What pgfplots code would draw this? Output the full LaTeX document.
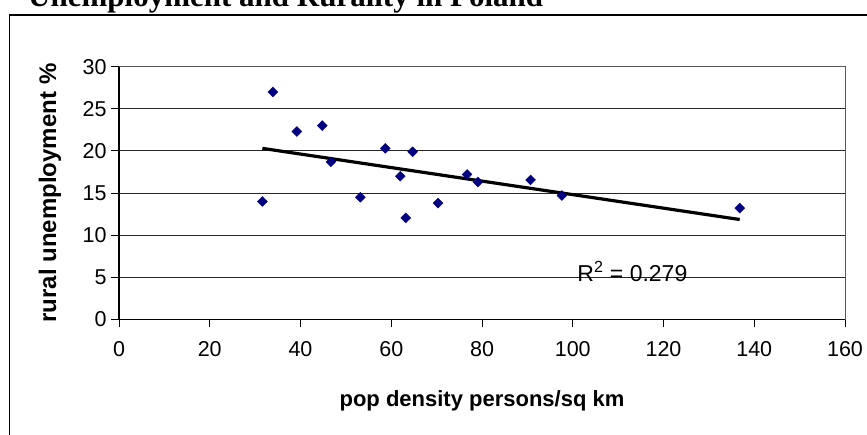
\documentclass[border=0pt]{standalone}
\usepackage{pgfplots}
\pgfplotsset{compat=1.18}
\usepackage{fontspec}
\setmainfont{Liberation Sans}
\newfontfamily\titlefont{Liberation Serif}
\definecolor{navy}{RGB}{0,0,128}
\begin{document}
\begin{tikzpicture}
\useasboundingbox (0pt,0pt) rectangle (867pt,434pt);
\clip (0pt,0pt) rectangle (867pt,434pt);
\draw[line width=1.6pt] (9.5pt,-20pt) rectangle (900pt,419pt);
\node[anchor=base west, font=\titlefont\bfseries\fontsize{31}{34}\selectfont, inner sep=0] at (28pt,427pt) {Unemployment and Rurality in Poland};
\begin{axis}[
  at={(119pt,114.7pt)}, anchor=south west,
  scale only axis, width=726pt, height=252.6pt,
  xmin=0, xmax=160, ymin=0, ymax=30,
  xtick={0,20,...,160}, ytick={0,5,...,30},
  ymajorgrids, grid style={black!85, line width=0.8pt},
  axis line style={gray!70!black, line width=0.9pt},
  tick pos=left, tick align=outside, major tick length=8pt,
  tick style={black, line width=0.8pt},
  /pgf/number format/assume math mode=true,
  ticklabel style={font=\fontsize{21.5}{24}\selectfont},
  xticklabel shift=11pt,
  yticklabel shift=1pt,
  xlabel={pop density persons/sq km},
  ylabel={rural unemployment \%},
  xlabel style={font=\bfseries\fontsize{22}{24}\selectfont, at={(axis description cs:0.5,-0.323)}, anchor=center},
  ylabel style={font=\bfseries\fontsize{24}{26}\selectfont, at={(axis description cs:-0.095,0.5)}, anchor=center},
  clip=false,
]
\draw[black, line width=1.3pt] (rel axis cs:0,1) -- (rel axis cs:0,0) -- (rel axis cs:1,0);
\addplot[only marks, mark=square*, mark size=3.5pt, mark options={rotate=45, fill=navy, draw=navy}] coordinates {
(31.6,14.0) (33.9,27.0) (39.2,22.3) (44.8,23.0) (46.7,18.7) (53.2,14.5)
(58.7,20.3) (62.0,17.0) (63.2,12.05) (64.7,19.9) (70.3,13.8) (76.7,17.2)
(79.1,16.3) (90.7,16.55) (97.6,14.7) (136.8,13.2)
};
\addplot[black, line width=3.2pt, no marks] coordinates {(31.6,20.3) (136.8,11.85)};
\node[anchor=base west, inner sep=0, font=\fontsize{23}{26}\selectfont] at (axis cs:101,4.45) {R\textsuperscript{2} = 0.279};
\end{axis}
\end{tikzpicture}
\end{document}
